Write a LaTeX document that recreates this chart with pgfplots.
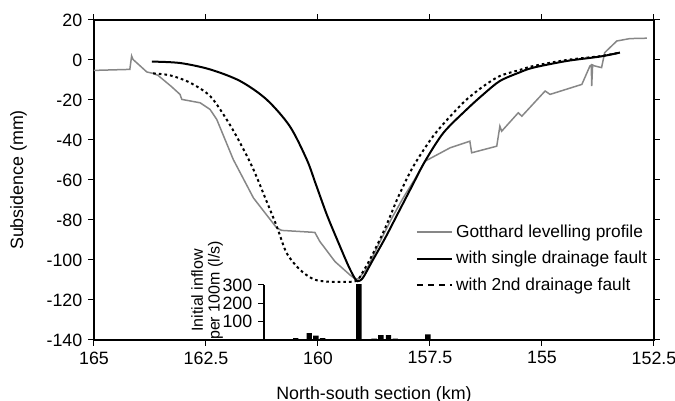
\documentclass[border=0pt]{standalone}
\usepackage{pgfplots}
\pgfplotsset{compat=1.18}
\usepackage{fontspec}
\setmainfont{Liberation Sans}
\definecolor{levgray}{RGB}{135,135,135}

\begin{document}
\begin{tikzpicture}
% main profile axis
\begin{axis}[
  name=main, at={(0pt,0pt)}, anchor=south west,
  scale only axis, width=336pt, height=192pt,
  x dir=reverse, xmin=152.5, xmax=165, ymin=-140, ymax=20,
  xtick={152.5,155,157.5,160,162.5,165},
  ytick={-140,-120,...,20},
  tick align=outside, major tick length=3.5pt,
  tick style={black, line width=0.6pt},
  axis line style={line width=0.8pt},
  /pgf/number format/assume math mode=true,
  font=\fontsize{10.7}{12.8}\selectfont,
  xlabel={North-south section (km)},
  ylabel={Subsidence (mm)},
  xlabel style={at={(axis description cs:0.5,-0.172)}, anchor=center},
  ylabel style={at={(axis description cs:-0.135,0.5)}, anchor=center},
  legend style={at={(axis description cs:0.574,0.372)}, anchor=north west,
    draw=none, fill=none, row sep=2.9pt, inner sep=0pt,
    font=\fontsize{10.4}{12.4}\selectfont},
  legend cell align=left,
  legend image code/.code={\draw[#1] (0pt,0pt) -- (21pt,0pt);},
]
\addplot[levgray, line width=0.9pt] coordinates {
(165,-5.2) (164.2,-4.7) (164.16,2.0) (164.13,0.3) (163.82,-6.0) (163.68,-6.7)
(163.57,-7.7) (163.27,-13.3) (163.08,-17.2) (163.04,-19.7) (162.63,-21.4)
(162.41,-24.7) (162.26,-29.7) (161.89,-49.8) (161.44,-69.0) (160.92,-84.0)
(160.81,-85.2) (160.07,-86.2) (159.96,-90.7) (159.62,-100.8) (159.29,-107.4)
(159.17,-109.5) (159.1,-109.5) (158.9,-104) (158.62,-91) (158.35,-79)
(158.1,-69) (157.85,-60) (157.61,-50.6) (157.05,-43.9) (156.61,-40.6)
(156.57,-46.4) (156.01,-43.1) (155.94,-33.1) (155.9,-35.6) (155.53,-26.4)
(155.45,-28.1) (154.93,-15.5) (154.82,-17.2) (154.11,-12.2) (153.93,-3.0)
(153.9,-2.5) (153.89,-13) (153.87,-2.5) (153.82,-3.0) (153.67,-3.8)
(153.6,3.7) (153.33,9.5) (153.04,10.7) (152.66,10.9)
};
\addlegendentry{Gotthard levelling profile}
\addplot[black, line width=1.2pt, smooth, tension=0.5] coordinates {
(163.71,-0.8) (163.08,-1.5) (162.41,-4.7) (161.74,-10.5) (161.15,-19.7)
(160.63,-33.1) (160.25,-49.8) (160.05,-62) (159.8,-77.5) (159.55,-91)
(159.33,-102.5) (159.2,-108.3) (159.12,-110.6) (159.0,-109) (158.8,-101)
(158.5,-89) (158.2,-76) (157.9,-63) (157.61,-50.6) (157.2,-36.4)
(156.68,-24.7) (156.3,-17) (155.94,-10.5) (155.5,-6.2) (155.19,-3.8)
(154.45,-0.5) (153.71,1.7) (153.26,3.7)
};
\addlegendentry{with single drainage fault}
\addplot[black, line width=1.2pt, smooth, tension=0.5, dash pattern=on 1.6pt off 1.8pt,
  legend image code/.code={\draw[black, line width=1.2pt, dash pattern=on 4pt off 2.6pt] (0pt,0pt) -- (21pt,0pt);}]
  coordinates {
(163.68,-6.7) (163.30,-7.7) (162.86,-11.3) (162.41,-18.0) (162.04,-29.7)
(161.74,-41.4) (161.44,-54.8) (161.15,-70.5) (160.92,-83.2) (160.70,-96.5)
(160.40,-104.9) (160.10,-109.6) (159.81,-110.8) (159.5,-110.9) (159.15,-110.5)
(159.0,-106) (158.8,-98) (158.5,-84) (158.2,-68) (157.87,-53.1)
(157.43,-38.1) (157.0,-27) (156.68,-19.7) (156.3,-13) (155.94,-8.0)
(155.5,-5) (155.19,-3.0) (154.45,0) (153.71,1.9) (153.26,3.7)
};
\addlegendentry{with 2nd drainage fault}
\end{axis}
% inset: initial inflow per 100 m
\begin{axis}[
  at={(102pt,0pt)}, anchor=south west,
  scale only axis, width=234pt, height=33pt,
  x dir=reverse, xmin=152.5, xmax=161.21, ymin=0, ymax=300,
  axis x line=none, axis y line*=left,
  ytick={100,200,300},
  tick align=outside, major tick length=3.5pt,
  tick style={black, line width=0.6pt},
  axis line style={line width=0.8pt},
  /pgf/number format/assume math mode=true,
  font=\fontsize{10.7}{12.8}\selectfont,
  clip=false,
  ylabel={Initial inflow\\per 100m (l/s)},
  ylabel style={align=center, font=\fontsize{9.6}{10}\selectfont,
    at={(axis description cs:-0.146,0.9)}, anchor=center},
]
\addplot[ybar, bar width=0.12, fill=black, draw=none] coordinates {
(160.7,5) (160.5,10) (160.4,5) (160.2,37) (160.05,24) (159.9,10)
(159.7,5) (159.55,5) (159.35,3) (159.09,305) (158.75,8) (158.6,27)
(158.43,27) (158.28,8) (157.55,31) (156.9,4) (156.35,4) (155.5,4)
(153.65,5) (153.2,5)
};
\end{axis}
\pgfresetboundingbox
\path (-56.4pt,-36.6pt) rectangle (348.6pt,204pt);
\end{tikzpicture}
\end{document}
